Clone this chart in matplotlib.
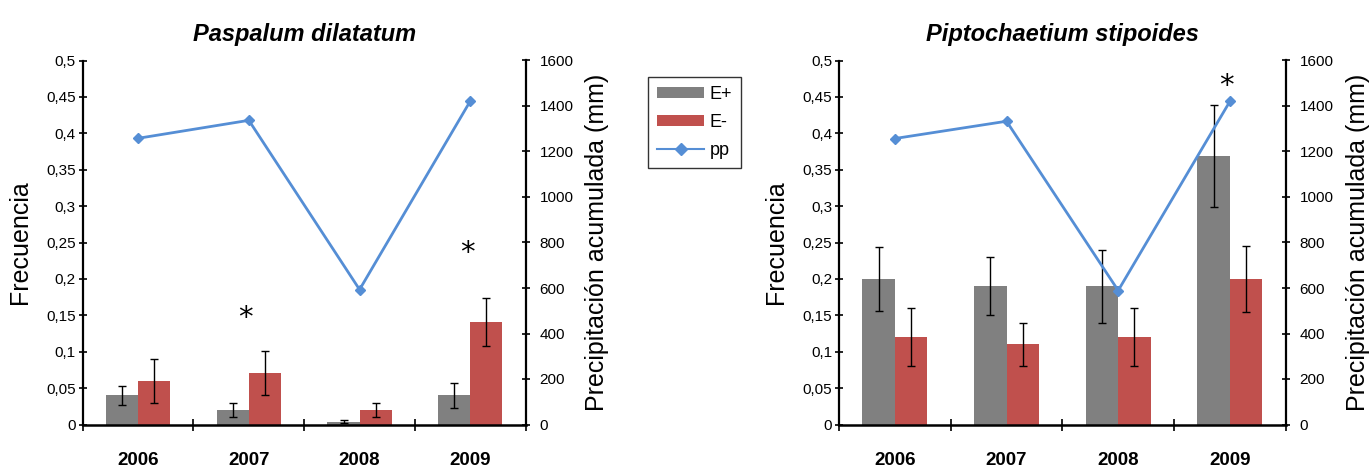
import matplotlib
matplotlib.use("Agg")
import matplotlib.pyplot as plt
import numpy as np
from matplotlib.patches import Patch
from matplotlib.lines import Line2D

plt.rcParams['font.family'] = ['Liberation Sans', 'DejaVu Sans']

years = ['2006', '2007', '2008', '2009']
freq_ticks = [0, 0.05, 0.1, 0.15, 0.2, 0.25, 0.3, 0.35, 0.4, 0.45, 0.5]
freq_tick_labels = ['0', '0,05', '0,1', '0,15', '0,2', '0,25', '0,3', '0,35', '0,4', '0,45', '0,5']
pp_ticks = [0, 200, 400, 600, 800, 1000, 1200, 1400, 1600]

# Paspalum dilatatum
pd_title = 'Paspalum dilatatum'
pd_eplus = [0.04, 0.02, 0.004, 0.04]
pd_eplus_err = [0.013, 0.01, 0.002, 0.017]
pd_eminus = [0.06, 0.071, 0.02, 0.141]
pd_eminus_err = [0.03, 0.03, 0.01, 0.033]
pd_pp = [1258, 1337, 593, 1422]
pd_star_x = [1, 3]
pd_star_y = [0.155, 0.244]

# Piptochaetium stipoides
ps_title = 'Piptochaetium stipoides'
ps_eplus = [0.2, 0.19, 0.19, 0.369]
ps_eplus_err = [0.044, 0.04, 0.05, 0.07]
ps_eminus = [0.12, 0.11, 0.12, 0.2]
ps_eminus_err = [0.04, 0.03, 0.04, 0.045]
ps_pp = [1257, 1333, 589, 1420]
ps_star_x = [3]
ps_star_y = [0.473]

GRAY = '#808080'
RED = '#C0504D'
BLUE = '#558ED5'

W, H = 1370, 468
fig = plt.figure(figsize=(W / 100, H / 100), dpi=100)


def draw(rect, title, eplus, eplus_err, eminus, eminus_err, pp, star_x, star_y):
    ax = fig.add_axes(rect)
    x = np.arange(len(years))
    bw = 0.29
    ax.bar(x - bw / 2, eplus, bw, color=GRAY, zorder=2)
    ax.bar(x + bw / 2, eminus, bw, color=RED, zorder=2)
    ax.errorbar(x - bw / 2, eplus, yerr=eplus_err, fmt='none', ecolor='black',
                elinewidth=1.0, capsize=2.6, capthick=1.0, zorder=3)
    ax.errorbar(x + bw / 2, eminus, yerr=eminus_err, fmt='none', ecolor='black',
                elinewidth=1.0, capsize=2.6, capthick=1.0, zorder=3)
    for sx, sy in zip(star_x, star_y):
        ax.annotate('*', xy=(sx - 0.03, sy), xytext=(0, -6),
                    textcoords='offset pixels', ha='center', va='center',
                    fontsize=21, family='DejaVu Sans', color='black', zorder=4)
    ax.set_xlim(-0.5, len(years) - 0.5)
    ax.set_ylim(0, 0.5)
    ax.set_yticks(freq_ticks)
    ax.set_yticklabels(freq_tick_labels)
    ax.set_xticks(np.arange(len(years) + 1) - 0.5)
    ax.set_xticklabels([])
    ax.set_xticks(x, minor=True)
    ax.set_xticklabels(years, minor=True, fontsize=13.5, fontweight='bold')
    ax.tick_params(axis='x', which='major', direction='inout', length=9, width=1.2)
    ax.tick_params(axis='x', which='minor', length=0, pad=20)
    ax.tick_params(axis='y', direction='inout', length=6, width=1.2,
                   labelsize=11, pad=2)
    ax.spines['top'].set_visible(False)
    ax.spines['left'].set_linewidth(1.6)
    ax.spines['bottom'].set_linewidth(1.8)
    ax.spines['right'].set_visible(False)
    ax.set_ylabel('Frecuencia', fontsize=18, va='center')
    ax.yaxis.set_label_coords(-0.142, 0.5)
    ax.set_title(title, fontsize=17, fontweight='bold', style='italic', pad=14)

    ax2 = ax.twinx()
    ax2.plot(x, pp, color=BLUE, lw=2.0, marker='D', markersize=5.5, zorder=5)
    ax2.set_ylim(0, 1600)
    ax2.set_yticks(pp_ticks)
    ax2.tick_params(axis='y', direction='inout', length=6, width=1.2,
                    labelsize=11, pad=7)
    ax2.spines['top'].set_visible(False)
    ax2.spines['left'].set_visible(False)
    ax2.spines['bottom'].set_visible(False)
    ax2.spines['right'].set_linewidth(1.6)
    ax2.set_ylabel('Precipitación acumulada (mm)', fontsize=18, va='center', rotation=90)
    ax2.yaxis.set_label_coords(1.162, 0.5)
    return ax, ax2


y0 = 1 - 424.5 / H
h = (424.5 - 60.5) / H
draw([82.7 / W, y0, (525.7 - 82.7) / W, h], pd_title, pd_eplus, pd_eplus_err,
     pd_eminus, pd_eminus_err, pd_pp, pd_star_x, pd_star_y)
draw([839 / W, y0, (1285.7 - 839) / W, h], ps_title, ps_eplus, ps_eplus_err,
     ps_eminus, ps_eminus_err, ps_pp, ps_star_x, ps_star_y)

handles = [Patch(facecolor=GRAY, edgecolor='none'),
           Patch(facecolor=RED, edgecolor='none'),
           Line2D([0], [0], color=BLUE, lw=1.5, marker='D', markersize=6)]
leg = fig.legend(handles, ['E+', 'E-', 'pp'], loc='upper left',
                 bbox_to_anchor=(648 / W, 1 - 77 / H), fontsize=13,
                 frameon=True, fancybox=False, edgecolor='black',
                 handlelength=2.6, handleheight=0.5, labelspacing=0.6,
                 borderpad=0.5, handletextpad=0.3, borderaxespad=0)
leg.get_frame().set_linewidth(1.0)

fig.savefig('out.png', dpi=100)
